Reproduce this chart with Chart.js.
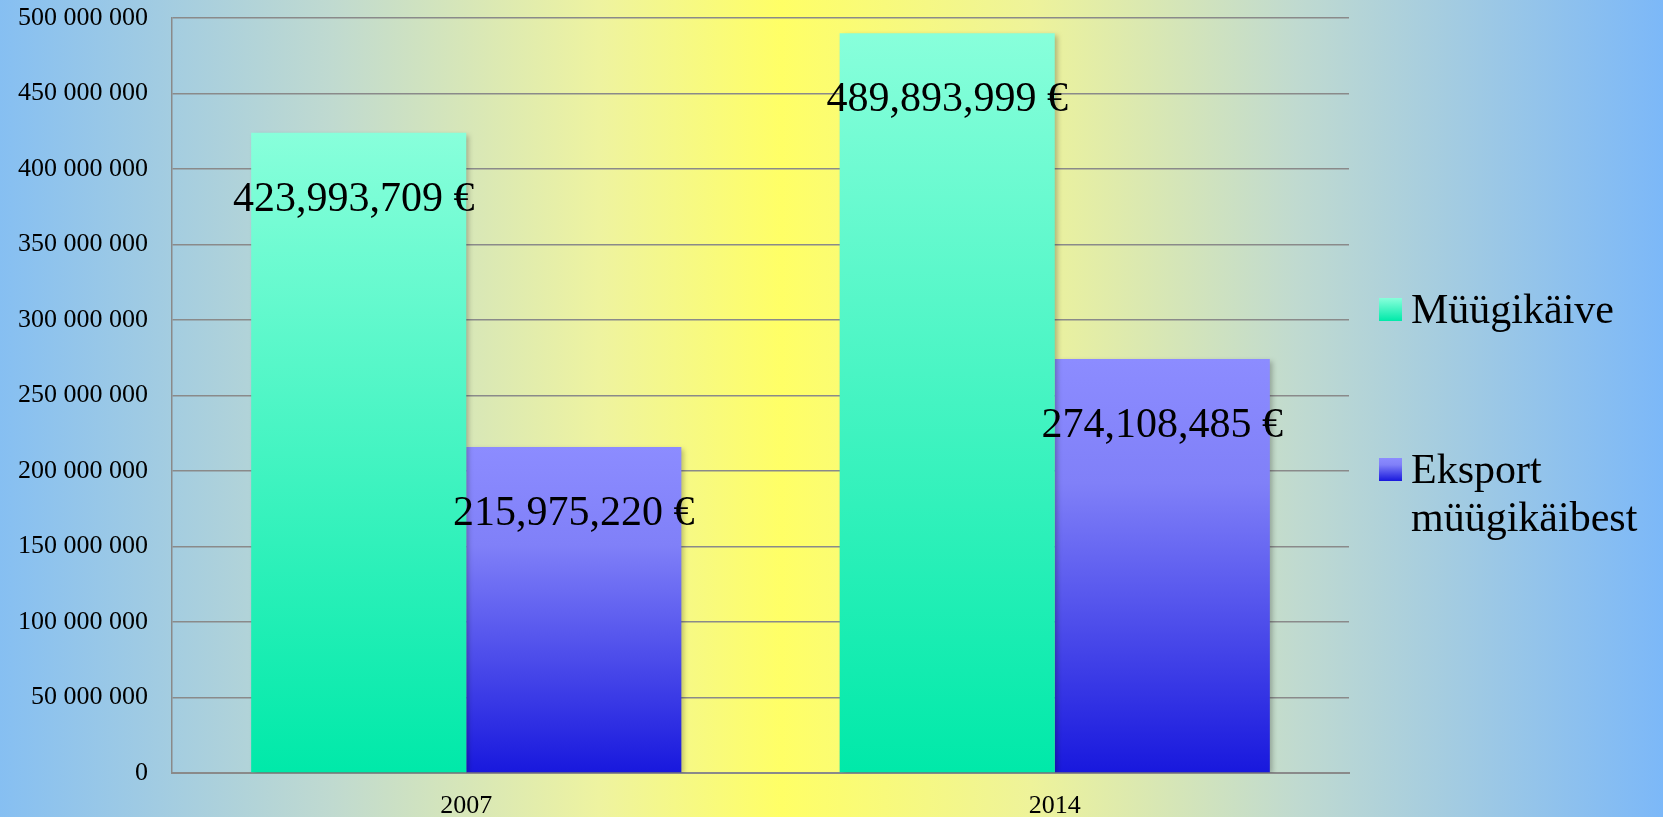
<!DOCTYPE html>
<html>
<head>
<meta charset="utf-8">
<script src="https://cdn.jsdelivr.net/npm/chart.js@4.4.1/dist/chart.umd.min.js"></script>
<style>
  html, body { margin: 0; padding: 0; overflow: hidden; }
  body { width: 1663px; height: 817px; background: linear-gradient(to right, #86bff2 0%, #c0dad0 20%, #eef3a0 36%, #ffff66 47%, #eef39a 62%, #c0dad0 78%, #7cb8f8 100%); }
  #wrap { width: 1663px; height: 817px; position: relative; }
</style>
</head>
<body>
<div id="wrap"><canvas id="salesChart"></canvas></div>
<script>
// chart data
const years = ['2007', '2014'];
const seriesNames = ['Müügikäive', ['Eksport', 'müügikäibest']];
const turnover = [423993709, 489893999];
const exportSales = [215975220, 274108485];
const yTicks = [0, 50000000, 100000000, 150000000, 200000000, 250000000, 300000000, 350000000, 400000000, 450000000, 500000000];

const serif = '"Liberation Serif", "Times New Roman", serif';

// gradient colours per series (top -> bottom)
const gradStops = [
  [[0, '#88ffdb'], [1, '#00e9a9']],
  [[0, '#8c8cff'], [0.3, '#8080f8'], [1, '#1818dd']]
];

function barGradient(ctx, dsIndex) {
  const chart = ctx.chart;
  if (!chart.chartArea) return gradStops[dsIndex][0][1];
  const val = ctx.raw;
  const yTop = chart.scales.y.getPixelForValue(val);
  const yBot = chart.scales.y.getPixelForValue(0);
  const g = chart.ctx.createLinearGradient(0, yTop, 0, yBot);
  gradStops[dsIndex].forEach(s => g.addColorStop(s[0], s[1]));
  return g;
}

function fmtAxis(v) {
  return String(v).replace(/\B(?=(\d{3})+(?!\d))/g, ' ');
}

// shadow to the right of bars
const barShadow = {
  id: 'barShadow',
  beforeDatasetsDraw(chart) {
    const c = chart.ctx;
    c.save();
    c.shadowColor = 'rgba(0,0,0,0.25)';
    c.shadowOffsetX = 3;
    c.shadowOffsetY = 2;
    c.shadowBlur = 5;
  },
  afterDatasetsDraw(chart) {
    chart.ctx.restore();
  }
};

// value labels inside the top of each bar
const valueLabels = {
  id: 'valueLabels',
  afterDatasetsDraw(chart) {
    const c = chart.ctx;
    c.save();
    c.font = '42px ' + serif;
    c.fillStyle = '#000';
    c.textAlign = 'center';
    c.textBaseline = 'alphabetic';
    chart.data.datasets.forEach((ds, i) => {
      chart.getDatasetMeta(i).data.forEach((bar, j) => {
        const txt = ds.data[j].toLocaleString('en-US') + ' €';
        c.fillText(txt, bar.x - (j === 0 && i === 0 ? 5 : 0), bar.y + 78);
      });
    });
    c.restore();
  }
};

// legend on the right, with a two line entry
const sideLegend = {
  id: 'sideLegend',
  afterDraw(chart) {
    const c = chart.ctx;
    const x0 = 1379;
    const rows = [298, 458];
    c.save();
    c.font = '42px ' + serif;
    c.fillStyle = '#000';
    c.textAlign = 'left';
    c.textBaseline = 'alphabetic';
    seriesNames.forEach((name, i) => {
      const y = rows[i];
      const g = c.createLinearGradient(0, y, 0, y + 23);
      gradStops[i].forEach(s => g.addColorStop(s[0], s[1]));
      c.fillStyle = g;
      c.fillRect(x0, y, 23, 23);
      c.fillStyle = '#000';
      const lines = Array.isArray(name) ? name : [name];
      lines.forEach((ln, k) => c.fillText(ln, x0 + 32, y + 25 + k * 48));
    });
    c.restore();
  }
};

const ctx = document.getElementById('salesChart');

new Chart(ctx, {
  type: 'bar',
  data: {
    labels: years,
    datasets: [
      {
        label: 'Müügikäive',
        data: turnover,
        backgroundColor: (c) => barGradient(c, 0),
        borderWidth: 0
      },
      {
        label: 'Eksport müügikäibest',
        data: exportSales,
        backgroundColor: (c) => barGradient(c, 1),
        borderWidth: 0
      }
    ]
  },
  plugins: [barShadow, valueLabels, sideLegend],
  options: {
    responsive: true,
    maintainAspectRatio: false,
    animation: false,
    layout: {
      padding: { top: 18, right: 314, left: 0, bottom: 0 }
    },
    datasets: {
      bar: { categoryPercentage: 0.731, barPercentage: 1.0 }
    },
    scales: {
      x: {
        grid: { display: false, drawTicks: false },
        border: { display: true, color: '#8a8a8a', width: 2 },
        ticks: {
          color: '#000',
          font: { family: serif, size: 26 },
          padding: 18
        },
        afterFit(scale) { scale.height = 44; scale.paddingLeft = 0; scale.paddingRight = 0; }
      },
      y: {
        min: 0,
        max: 500000000,
        afterBuildTicks(scale) { scale.ticks = yTicks.map(v => ({ value: v })); },
        grid: { color: '#8a8a8a', lineWidth: 1.5, drawTicks: false },
        border: { display: true, color: '#8a8a8a', width: 1.5 },
        ticks: {
          color: '#000',
          font: { family: serif, size: 26 },
          padding: 24,
          callback: (v) => fmtAxis(v)
        },
        afterFit(scale) { scale.width = 172; scale.paddingTop = 0; scale.paddingBottom = 0; }
      }
    },
    plugins: {
      legend: { display: false },
      tooltip: { enabled: false },
      title: { display: false }
    }
  }
});
</script>
</body>
</html>
